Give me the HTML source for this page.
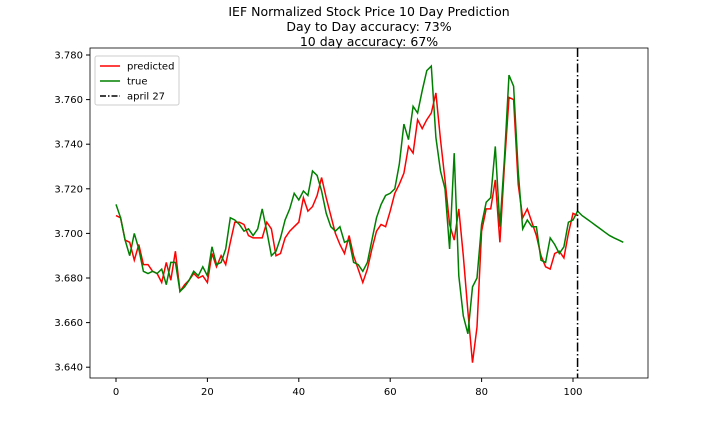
<!DOCTYPE html>
<html><head><meta charset="utf-8"><style>
body{margin:0;background:#fff;overflow:hidden;}
svg text{font-family:"DejaVu Sans","Liberation Sans",sans-serif;}
</style></head><body>
<svg width="720" height="432" viewBox="0 0 720 432">
<defs><clipPath id="clip"><rect x="90" y="48" width="558" height="330"/></clipPath></defs>
<g id="title" font-size="12.5" text-anchor="middle" fill="#000">
<text x="369" y="16">IEF Normalized Stock Price 10 Day Prediction</text>
<text x="369" y="31">Day to Day accuracy: 73%</text>
<text x="369" y="46">10 day accuracy: 67%</text>
</g>
<g id="plot"></g>
</svg>
<script>
const predicted=[3.708,3.707,3.697,3.696,3.688,3.695,3.686,3.686,3.683,3.682,3.678,3.687,3.679,3.692,3.674,3.677,3.679,3.682,3.680,3.681,3.678,3.691,3.685,3.690,3.686,3.696,3.705,3.705,3.704,3.699,3.698,3.698,3.698,3.705,3.702,3.690,3.691,3.698,3.701,3.703,3.705,3.716,3.710,3.712,3.717,3.725,3.716,3.708,3.700,3.695,3.691,3.699,3.690,3.684,3.678,3.684,3.693,3.701,3.704,3.703,3.710,3.718,3.722,3.727,3.739,3.736,3.751,3.747,3.751,3.754,3.763,3.742,3.724,3.704,3.697,3.711,3.690,3.665,3.642,3.658,3.701,3.711,3.711,3.724,3.696,3.731,3.761,3.760,3.722,3.707,3.711,3.705,3.699,3.690,3.685,3.684,3.691,3.692,3.689,3.700,3.709,3.708];
const trueVals=[3.713,3.707,3.697,3.690,3.700,3.693,3.683,3.682,3.683,3.682,3.684,3.677,3.687,3.687,3.674,3.676,3.679,3.683,3.681,3.685,3.681,3.694,3.686,3.687,3.693,3.707,3.706,3.704,3.701,3.702,3.699,3.702,3.711,3.701,3.690,3.692,3.698,3.706,3.711,3.718,3.715,3.719,3.717,3.728,3.726,3.719,3.709,3.703,3.701,3.703,3.696,3.697,3.687,3.686,3.683,3.687,3.697,3.707,3.713,3.717,3.718,3.720,3.731,3.749,3.742,3.757,3.754,3.764,3.773,3.775,3.743,3.728,3.720,3.693,3.736,3.681,3.663,3.655,3.676,3.680,3.704,3.714,3.716,3.739,3.703,3.734,3.771,3.766,3.728,3.702,3.706,3.703,3.703,3.688,3.687,3.698,3.695,3.691,3.694,3.705,3.706,3.710,3.708,3.7065,3.705,3.7035,3.702,3.7005,3.699,3.698,3.697,3.696];
const markerDay=101;
const xTicks=[0,20,40,60,80,100];
const yTicks=[3.64,3.66,3.68,3.70,3.72,3.74,3.76,3.78];
const L=90,R=648,T=48,B=378;
const xs=v=>116+(v)*4.57;
const ys=v=>55+(3.78-v)*2230;
const NS="http://www.w3.org/2000/svg";
const g=document.getElementById('plot');
function mk(t,a){const e=document.createElementNS(NS,t);for(const k in a)e.setAttribute(k,a[k]);g.appendChild(e);return e;}
xTicks.forEach(v=>{
 const l=mk('line',{x1:xs(v),x2:xs(v),y1:B,y2:B+4,stroke:'#000'});
 
 
 const t=mk('text',{x:xs(v),y:B+17,'font-size':10,'text-anchor':'middle'});
 t.textContent=v;
 
 
});
yTicks.forEach(v=>{
 const l=mk('line',{x1:L-4,x2:L,y1:ys(v),y2:ys(v),stroke:'#000'});
 
 
 const t=mk('text',{x:L-7,y:ys(v)+3.5,'font-size':10,'text-anchor':'end'});
 t.textContent=v.toFixed(3);
 
 
});
const pts=a=>a.map((v,i)=>xs(i).toFixed(1)+','+ys(v).toFixed(1)).join(' ');
const pr=mk('polyline',{points:pts(predicted),fill:'none',stroke:'#ff0000','stroke-width':1.5,'clip-path':'url(#clip)'});


const tr=mk('polyline',{points:pts(trueVals),fill:'none',stroke:'#008000','stroke-width':1.5,'clip-path':'url(#clip)'});


const vl=mk('line',{x1:xs(markerDay),x2:xs(markerDay),y1:T,y2:B,stroke:'#000','stroke-width':1.5,'stroke-dasharray':'9,2.5,1.5,2.5'});


const fr=mk('rect',{x:L,y:T,width:R-L,height:B-T,fill:'none',stroke:'#000','stroke-width':0.8});


const lg=mk('rect',{x:95,y:56,width:84,height:49,fill:'#fff',stroke:'#ccc',rx:2});


const items=[['predicted','#ff0000',''],['true','#008000',''],['april 27','#000','6,2,1.5,2']];
items.forEach((it,i)=>{
 const y=66+i*15;
 const l=mk('line',{x1:100,x2:120,y1:y,y2:y,stroke:it[1],'stroke-width':1.5,'stroke-dasharray':it[2]||'none'});
 
 
 const t=mk('text',{x:127,y:y+3.5,'font-size':10});
 t.textContent=it[0];
 
 
});
</script>
</body></html>
